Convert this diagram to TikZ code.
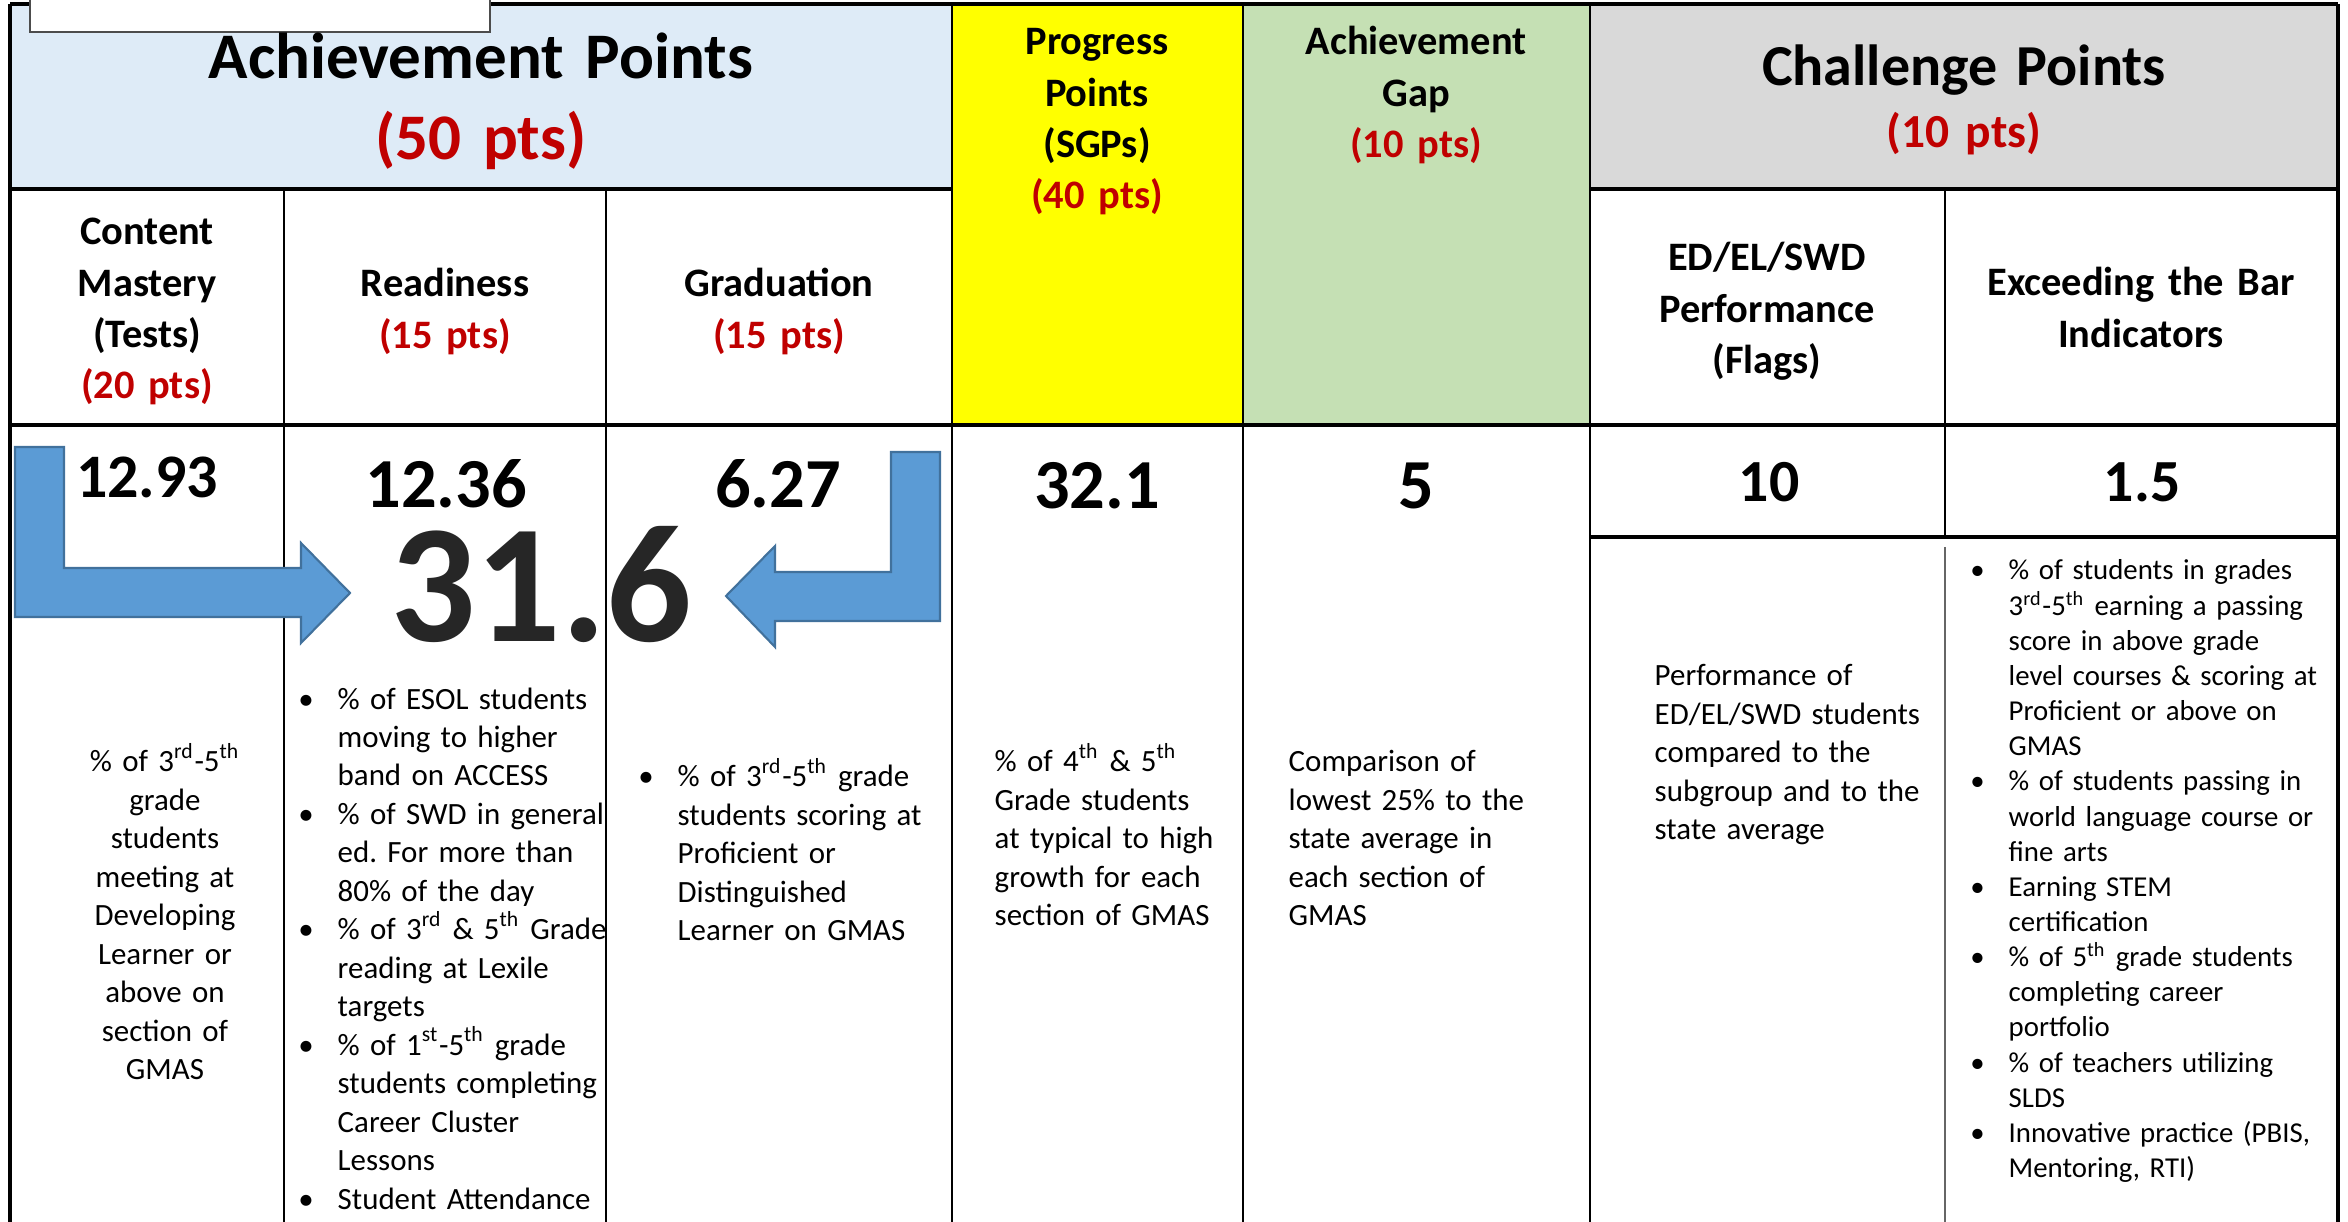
\documentclass[tikz,border=0pt]{standalone}
\usepackage{fontspec}
\setmainfont{Carlito}
\usepackage{tikz}
\definecolor{mred}{HTML}{C00000}
\definecolor{mblue}{HTML}{5B9BD5}
\definecolor{mborder}{HTML}{41719C}
\definecolor{mtotal}{HTML}{262626}
\definecolor{hblue}{HTML}{DEEBF7}
\definecolor{hyellow}{HTML}{FFFF00}
\definecolor{hgreen}{HTML}{C5E0B4}
\definecolor{hgray}{HTML}{D9D9D9}
\frenchspacing
\newcommand{\bul}{\makebox[0pt][r]{\textbullet\hspace{0.24cm}}}
\newcommand{\sth}[1]{\textsuperscript{#1}}
\tikzset{rowline/.style = {line width=1pt, black}}
\tikzset{colline/.style = {line width=0.7pt, black}}
\tikzset{bighead/.style = {font=\bfseries\fontsize{18.5}{22.8}\selectfont, anchor=base,
                           text width=7cm, align=center, inner sep=0pt}}
\tikzset{subhead/.style = {font=\bfseries\fontsize{11.5}{14.6}\selectfont, anchor=base,
                           text width=2.7cm, align=center, inner sep=0pt}}
\tikzset{score/.style = {font=\bfseries\fontsize{20}{24}\selectfont, anchor=base, inner sep=0pt}}
\tikzset{body/.style = {font=\fontsize{8.8}{10.95}\selectfont, anchor=base west,
                        text width=2.95cm, align=left, inner sep=0pt}}

\begin{document}
\begin{tikzpicture}
    \useasboundingbox (0, 0) rectangle (23.48, -12.22);

    % coloured headers
    \fill [hblue] (0.10, -0.04) rectangle (9.52, -1.89);
    \fill [hyellow] (9.52, -0.04) rectangle (12.43, -4.25);
    \fill [hgreen] (12.43, -0.04) rectangle (15.90, -4.25);
    \fill [hgray] (15.90, -0.04) rectangle (23.38, -1.89);

    % grid
    \draw [rowline] (0.10, -0.04) -- (23.38, -0.04);
    \draw [rowline] (0.10, -0.04) -- (0.10, -12.22);
    \draw [rowline] (23.38, -0.04) -- (23.38, -12.22);
    \draw [rowline] (0.10, -1.89) -- (9.52, -1.89);
    \draw [rowline] (15.90, -1.89) -- (23.38, -1.89);
    \draw [rowline] (0.10, -4.25) -- (23.38, -4.25);
    \draw [rowline] (15.90, -5.37) -- (23.38, -5.37);
    \draw [colline] (2.84, -1.89) -- (2.84, -12.22);
    \draw [colline] (6.06, -1.89) -- (6.06, -12.22);
    \draw [colline] (9.52, -0.04) -- (9.52, -12.22);
    \draw [colline] (12.43, -0.04) -- (12.43, -12.22);
    \draw [colline] (15.90, -0.04) -- (15.90, -12.22);
    \draw [colline] (19.45, -1.89) -- (19.45, -5.37);
    \draw [line width=0.5pt, black!60] (19.45, -5.47) -- (19.45, -12.22);

    % box at the top
    \draw [fill=white, draw=black!70, line width=0.6pt] (0.30, 0.05) rectangle (4.90, -0.32);

    % headers
    \node [bighead] (achhead) at (4.81, -0.79) {Achievement Points\\ \textcolor{mred}{(50 pts)}};
    \node [subhead] (proghead) at (10.97, -0.55) {Progress\\ Points\\ (SGPs)\\ \textcolor{mred}{(40 pts)}};
    \node [subhead] (gaphead) at (14.16, -0.55) {Achievement\\ Gap\\ \textcolor{mred}{(10 pts)}};
    \node [bighead, font=\bfseries\fontsize{16.5}{20}\selectfont] (chalhead) at (19.64, -0.86) {Challenge Points};
    \node [bighead, font=\bfseries\fontsize{13.5}{16}\selectfont, mred] (chalpts) at (19.64, -1.48) {(10 pts)};

    \node [subhead] (content) at (1.47, -2.45) {Content\\ Mastery\\ (Tests)\\ \textcolor{mred}{(20 pts)}};
    \node [subhead] (readiness) at (4.45, -2.97) {Readiness\\ \textcolor{mred}{(15 pts)}};
    \node [subhead] (graduation) at (7.79, -2.97) {Graduation\\ \textcolor{mred}{(15 pts)}};
    \node [subhead] (flags) at (17.67, -2.71) {ED/EL/SWD\\ Performance\\ (Flags)};
    \node [subhead, text width=3.3cm] (exceeding) at (21.41, -2.96) {Exceeding the Bar\\ Indicators};

    % arrows into the total
    \fill [mblue, draw=mborder, line width=0.6pt] (0.15, -4.47) -- (0.64, -4.47) -- (0.64, -5.68)
        -- (3.01, -5.68) -- (3.01, -5.43) -- (3.50, -5.93) -- (3.01, -6.43) -- (3.01, -6.17)
        -- (0.15, -6.17) -- cycle;
    \fill [mblue, draw=mborder, line width=0.6pt] (9.40, -4.52) -- (8.91, -4.52) -- (8.91, -5.72)
        -- (7.75, -5.72) -- (7.75, -5.46) -- (7.26, -5.96) -- (7.75, -6.47) -- (7.75, -6.21)
        -- (9.40, -6.21) -- cycle;

    % scores
    \node [score, font=\bfseries\fontsize{17.6}{21}\selectfont] (cmscore) at (1.47, -4.98) {12.93};
    \node [score] (rdscore) at (4.46, -5.08) {12.36};
    \node [score] (grscore) at (7.78, -5.08) {6.27};
    \node [score] (progscore) at (10.97, -5.09) {32.1};
    \node [score] (gapscore) at (14.16, -5.09) {5};
    \node [score, font=\bfseries\fontsize{17}{20}\selectfont] (flagscore) at (17.69, -5.02) {10};
    \node [score, font=\bfseries\fontsize{17}{20}\selectfont] (exscore) at (21.42, -5.02) {1.5};
    \node [score, font=\bfseries\fontsize{48}{56}\selectfont, mtotal, text height=31pt]
        (total) at (5.41, -6.42) {31.6};

    % descriptions
    \node [body, anchor=base, align=center, text width=2.6cm] (cmtext) at (1.65, -7.72)
        {\% of 3\sth{rd}-5\sth{th}\\ grade\\ students\\ meeting at\\ Developing\\ Learner or\\
         above on\\ section of\\ GMAS};
    \node [body] (rdtext) at (3.37, -7.09)
        {\bul\% of ESOL students\\ moving to higher\\ band on ACCESS\\
         \bul\% of SWD in general\\ ed. For more than\\ 80\% of the day\\
         \bul\% of 3\sth{rd} \& 5\sth{th} Grade\\ reading at Lexile\\ targets\\
         \bul\% of 1\sth{st}-5\sth{th} grade\\ students completing\\ Career Cluster\\ Lessons\\
         \bul Student Attendance};
    \node [body] (grtext) at (6.77, -7.87)
        {\bul\% of 3\sth{rd}-5\sth{th} grade\\ students scoring at\\ Proficient or\\
         Distinguished\\ Learner on GMAS};
    \node [body] (progtext) at (9.94, -7.72)
        {\% of 4\sth{th} \& 5\sth{th}\\ Grade students\\ at typical to high\\ growth for each\\
         section of GMAS};
    \node [body] (gaptext) at (12.88, -7.72)
        {Comparison of\\ lowest 25\% to the\\ state average in\\ each section of\\ GMAS};
    \node [body] (flagtext) at (16.54, -6.86)
        {Performance of\\ ED/EL/SWD students\\ compared to the\\ subgroup and to the\\
         state average};
    \node [body, font=\fontsize{8.2}{10}\selectfont, text width=3.25cm] (extext) at (20.08, -5.80)
        {\bul\% of students in grades\\ 3\sth{rd}-5\sth{th} earning a passing\\
         score in above grade\\ level courses \& scoring at\\ Proficient or above on\\ GMAS\\
         \bul\% of students passing in\\ world language course or\\ fine arts\\
         \bul Earning STEM\\ certification\\
         \bul\% of 5\sth{th} grade students\\ completing career\\ portfolio\\
         \bul\% of teachers utilizing\\ SLDS\\
         \bul Innovative practice (PBIS,\\ Mentoring, RTI)};
\end{tikzpicture}
\end{document}
